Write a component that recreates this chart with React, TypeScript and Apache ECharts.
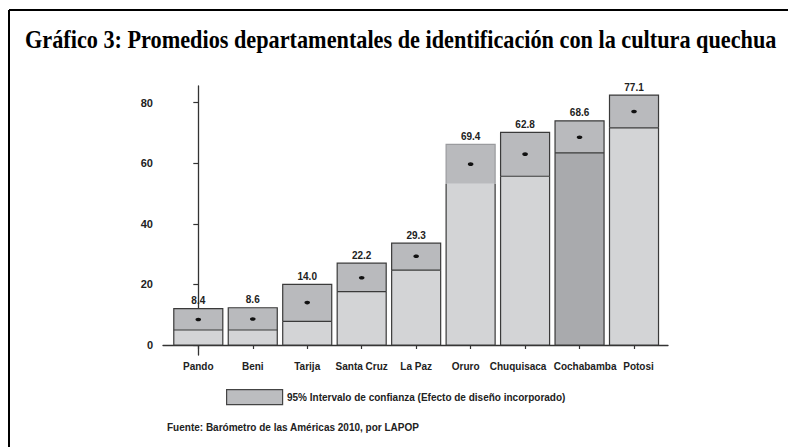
import React, { useEffect, useRef } from "react";
import * as echarts from "echarts";

const departments = ["Pando", "Beni", "Tarija", "Santa Cruz", "La Paz", "Oruro", "Chuquisaca", "Cochabamba", "Potosi"];
const ciLower = [4.95, 4.95, 7.8, 17.6, 24.7, 53.2, 55.7, 63.4, 71.7];
const ciUpper = [12.0, 12.3, 20.0, 27.0, 33.6, 66.2, 70.2, 74.0, 82.5];
const dotValues = [8.4, 8.6, 14.0, 22.2, 29.3, 59.7, 63.0, 68.6, 77.1];
const valueLabels = ["8.4", "8.6", "14.0", "22.2", "29.3", "69.4", "62.8", "68.6", "77.1"];
const yTicks = [0, 20, 40, 60, 80];
const titleText = "Gráfico 3: Promedios departamentales de identificación con la cultura quechua";
const legendText = "95% Intervalo de confianza (Efecto de diseño incorporado)";
const sourceText = "Fuente: Barómetro de las Américas 2010, por LAPOP";

const SANS = '"Liberation Sans", Arial, sans-serif';
const SERIF = '"Liberation Serif", "Times New Roman", serif';
const DARK = "#3a3a3a";

// label nudges (style only) so neighbouring category names do not collide
const labelStyleClass: Record<string, string> = {
  Oruro: "l10",
  Chuquisaca: "l14",
  Cochabamba: "r11",
  Potosi: "r9",
};

export default function App() {
  const ref = useRef<HTMLDivElement>(null);
  useEffect(() => {
    document.body.style.margin = "0";
    if (!ref.current) return;
    const chart = echarts.init(ref.current, undefined, { renderer: "svg" });
    const data = departments.map((_, i) => [i, ciLower[i], ciUpper[i], dotValues[i]]);
    const xIdx = departments.map((_, i) => i);
    const baseFont = { fontFamily: SANS, fontWeight: "bold" as const, fontSize: 10, color: "#222" };
    chart.setOption({
      animation: false,
      backgroundColor: "#ffffff",
      grid: { left: 163, right: 120, top: 86, bottom: 92 },
      xAxis: {
        type: "value",
        min: -0.648,
        max: 8.624,
        splitLine: { show: false },
        axisLine: { show: true, lineStyle: { color: "#333", width: 1.3 } },
        axisTick: { show: true, customValues: xIdx, length: 4, lineStyle: { color: "#333", width: 1.2 } },
        axisLabel: {
          customValues: xIdx,
          formatter: (v: number) => {
            const name = departments[Math.round(v)] ?? "";
            const cls = labelStyleClass[name] || "n";
            return `{${cls}|${name}}`;
          },
          margin: 6,
          ...baseFont,
          rich: {
            n: { ...baseFont },
            l10: { ...baseFont, padding: [0, 10, 0, 0] },
            l14: { ...baseFont, padding: [0, 14, 0, 0] },
            r11: { ...baseFont, padding: [0, 0, 0, 11] },
            r9: { ...baseFont, padding: [0, 0, 0, 9] },
          },
        },
      },
      yAxis: {
        type: "value",
        min: -3.3,
        max: 85.5,
        splitLine: { show: false },
        axisLine: { show: true, lineStyle: { color: "#333", width: 1.3 } },
        axisTick: { show: true, customValues: yTicks, length: 5, lineStyle: { color: "#333", width: 1.2 } },
        axisLabel: {
          customValues: yTicks,
          margin: 10,
          fontFamily: SANS,
          fontWeight: "bold",
          fontSize: 11,
          color: "#222",
        },
      },
      series: [
        {
          type: "custom",
          data,
          encode: { x: 0, y: [1, 2, 3] },
          renderItem: (params: any, api: any) => {
            const i = api.value(0);
            const lo = api.value(1);
            const hi = api.value(2);
            const m = api.value(3);
            const base = api.coord([i, 0]);
            const pLo = api.coord([i, lo]);
            const pHi = api.coord([i, hi]);
            const pM = api.coord([i, m]);
            const w = api.size([0.9, 0])[0];
            const x0 = base[0] - w / 2;
            const x1 = base[0] + w / 2;
            const name = departments[i];
            const faded = name === "Oruro";
            const darkLower = name === "Cochabamba";
            const children: any[] = [
              {
                type: "rect",
                shape: { x: x0, y: pLo[1], width: w, height: base[1] - pLo[1] },
                style: { fill: darkLower ? "#a9aaad" : "#d3d4d6" },
              },
              {
                type: "rect",
                shape: { x: x0, y: pHi[1], width: w, height: pLo[1] - pHi[1] },
                style: { fill: "#b9babd" },
              },
              {
                type: "polyline",
                shape: { points: [[x0, pLo[1]], [x0, base[1]], [x1, base[1]], [x1, pLo[1]]] },
                style: { fill: "none", stroke: DARK, lineWidth: 1.2 },
              },
              {
                type: "polyline",
                shape: { points: [[x0, pLo[1]], [x0, pHi[1]], [x1, pHi[1]], [x1, pLo[1]]] },
                style: { fill: "none", stroke: faded ? "#9a9b9e" : DARK, lineWidth: 1.2 },
              },
            ];
            if (!faded) {
              children.push({
                type: "line",
                shape: { x1: x0, y1: pLo[1], x2: x1, y2: pLo[1] },
                style: { stroke: DARK, lineWidth: 1.2 },
              });
            }
            children.push({
              type: "ellipse",
              shape: { cx: pM[0], cy: pM[1], rx: 2.8, ry: 1.8 },
              style: { fill: "#111" },
            });
            children.push({
              type: "text",
              x: base[0],
              y: pHi[1] - 3,
              style: {
                text: valueLabels[i],
                fill: "#222",
                font: `bold 10px ${SANS}`,
                align: "center",
                textAlign: "center",
                verticalAlign: "bottom",
                textVerticalAlign: "bottom",
              },
            });
            return { type: "group", children };
          },
        },
      ],
      graphic: [
        {
          type: "line",
          shape: { x1: 9, y1: 10, x2: 788, y2: 10 },
          style: { stroke: "#000", lineWidth: 2 },
        },
        {
          type: "line",
          shape: { x1: 9, y1: 10, x2: 9, y2: 447 },
          style: { stroke: "#000", lineWidth: 2 },
        },
        {
          type: "text",
          x: 25,
          y: 27,
          scaleX: 0.89,
          style: {
            text: titleText,
            font: `bold 25px ${SERIF}`,
            fill: "#000",
            align: "left",
            textAlign: "left",
            verticalAlign: "top",
            textVerticalAlign: "top",
          },
        },
        {
          type: "rect",
          left: 226,
          top: 389,
          shape: { width: 56, height: 15 },
          style: { fill: "#bcbdc0", stroke: "#444", lineWidth: 1.2 },
        },
        {
          type: "text",
          left: 287,
          top: 392,
          style: { text: legendText, font: `bold 10px ${SANS}`, fill: "#222" },
        },
        {
          type: "text",
          left: 167,
          top: 422,
          style: { text: sourceText, font: `bold 10px ${SANS}`, fill: "#222" },
        },
      ],
    });
    return () => chart.dispose();
  }, []);
  return <div ref={ref} style={{ position: "fixed", left: 0, top: 0, width: 788, height: 447 }} />;
}
